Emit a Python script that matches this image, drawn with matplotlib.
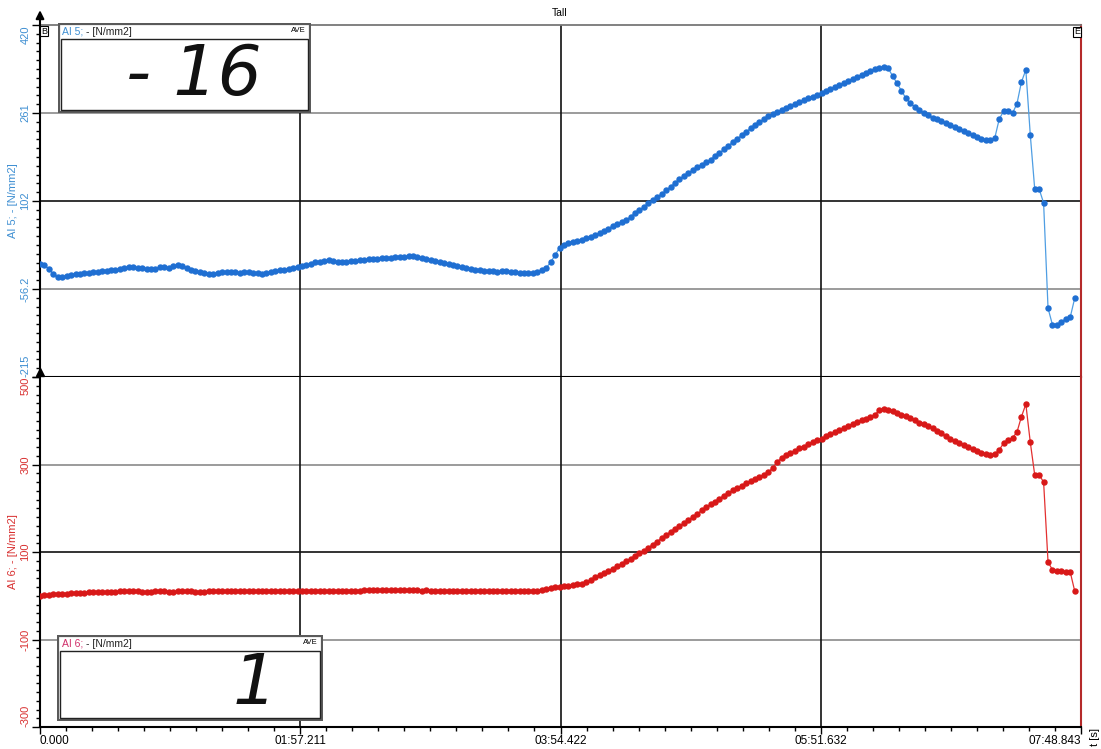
import matplotlib.pyplot as plt
import numpy as np
from matplotlib.patches import Rectangle
from matplotlib.ticker import AutoMinorLocator

plt.rcParams['font.family'] = ['Liberation Sans', 'DejaVu Sans']

W, H = 1101, 749

# samples every 2 s
time_s = np.arange(234) * 2.0
t_end = 468.843

ai5 = [
    -11, -13, -20, -29, -35, -35, -33, -31, -29, -29,
    -27, -27, -26, -26, -24, -24, -22, -22, -20, -18,
    -17, -17, -18, -18, -20, -20, -20, -17, -17, -18,
    -15, -13, -15, -18, -22, -24, -26, -27, -29, -29,
    -27, -26, -26, -26, -26, -27, -26, -26, -27, -27,
    -29, -27, -26, -24, -22, -22, -20, -18, -17, -15,
    -13, -11, -8, -8, -6, -4, -6, -8, -8, -8,
    -6, -6, -4, -4, -2, -2, -2, 0, 0, 0,
    2, 2, 2, 3, 3, 2, 0, -2, -4, -6,
    -8, -9, -11, -13, -15, -17, -18, -20, -22, -22,
    -24, -24, -24, -26, -24, -24, -26, -26, -27, -27,
    -27, -27, -26, -22, -18, -8, 5, 18, 23, 27,
    29, 30, 32, 36, 38, 41, 45, 48, 52, 58,
    61, 65, 68, 74, 81, 86, 92, 99, 104, 110,
    115, 122, 128, 135, 142, 148, 153, 158, 164, 167,
    173, 177, 184, 189, 196, 202, 209, 214, 222, 227,
    234, 240, 245, 250, 256, 260, 263, 267, 270, 274,
    278, 281, 285, 288, 290, 294, 297, 301, 305, 308,
    312, 315, 319, 323, 326, 330, 333, 337, 341, 342,
    344, 342, 328, 315, 301, 288, 279, 272, 267, 261,
    258, 252, 250, 247, 243, 240, 236, 232, 229, 225,
    222, 218, 215, 212, 213, 216, 250, 265, 265, 261,
    278, 317, 339, 222, 124, 124, 99, -91, -121, -121,
    -116, -110, -107, -73,
]

ai6 = [
    0, 1, 2, 3, 4, 5, 5, 6, 6, 7,
    7, 8, 8, 8, 9, 9, 9, 9, 10, 10,
    10, 10, 10, 9, 9, 9, 10, 10, 10, 9,
    9, 10, 10, 10, 10, 9, 9, 9, 10, 10,
    10, 10, 10, 10, 11, 10, 10, 10, 10, 11,
    10, 10, 11, 11, 11, 11, 11, 11, 11, 11,
    11, 11, 12, 12, 11, 12, 12, 12, 12, 12,
    12, 12, 12, 13, 13, 13, 13, 13, 13, 13,
    13, 13, 13, 13, 13, 13, 12, 13, 12, 12,
    12, 12, 12, 11, 11, 11, 11, 11, 11, 11,
    11, 11, 11, 11, 11, 11, 11, 11, 11, 11,
    11, 12, 12, 13, 15, 18, 20, 21, 22, 22,
    24, 26, 28, 31, 36, 42, 47, 52, 57, 62,
    68, 73, 79, 85, 91, 97, 103, 110, 117, 124,
    132, 139, 146, 153, 159, 166, 173, 180, 187, 195,
    202, 209, 215, 222, 229, 235, 241, 246, 252, 257,
    262, 267, 271, 277, 283, 292, 306, 315, 322, 326,
    332, 337, 341, 346, 351, 356, 359, 365, 370, 374,
    379, 383, 388, 393, 397, 401, 404, 409, 413, 425,
    427, 425, 422, 418, 414, 410, 406, 402, 396, 393,
    388, 383, 377, 371, 365, 358, 354, 349, 345, 340,
    335, 331, 326, 324, 322, 324, 333, 349, 356, 361,
    374, 409, 438, 351, 276, 276, 260, 77, 59, 57,
    57, 54, 54, 11,
]

ai5_ticks = [-215, -56.25, 102.5, 261.25, 420]
ai5_labels = ['-215', '-56.2', '102', '261', '420']
ai6_ticks = [-300, -100, 100, 300, 500]
ai6_labels = ['-300', '-100', '100', '300', '500']
time_ticks = [0.0, 117.211, 234.422, 351.632, 468.843]
time_labels = ['0.000', '01:57.211', '03:54.422', '05:51.632', '07:48.843']

BLUE_LINE = '#4f9ee3'
BLUE_DOT = '#1f6fd2'
BLUE_TEXT = '#3f8fd2'
RED_LINE = '#e33030'
RED_DOT = '#d81818'
RED_TEXT = '#d83030'
FRAME_RED = '#b52a2a'
GRID_GRAY = '#8a8a8a'


def px_rect(x0, y0, x1, y1):
    return [x0 / W, 1 - y1 / H, (x1 - x0) / W, (y1 - y0) / H]


def style_panel(ax, ticks, labels, color, ylabel):
    ax.set_xlim(0, t_end)
    ax.set_ylim(ticks[0], ticks[-1])
    ax.set_yticks(ticks, labels)
    ax.yaxis.set_minor_locator(AutoMinorLocator(10))
    ax.tick_params(axis='y', which='major', direction='out', length=6,
                   width=1, labelcolor=color, labelsize=8, pad=1)
    ax.tick_params(axis='y', which='minor', direction='out', length=3, width=1)
    tl = ax.get_yticklabels()
    for lab in tl:
        lab.set_rotation(90)
        lab.set_va('center')
    tl[0].set_va('bottom')
    tl[-1].set_va('top')
    ax.set_ylabel(ylabel, color=color, fontsize=8, labelpad=2)
    # gridlines: middle one dark, the others gray
    for i, v in enumerate(ticks[1:-1]):
        ax.axhline(v, color='#111111' if i == 1 else GRID_GRAY,
                   lw=1.2, zorder=1)
    for t in time_ticks[1:-1]:
        ax.axvline(t, color='#111111', lw=1.2, zorder=1)
    ax.spines['left'].set_linewidth(1.5)
    ax.spines['right'].set_color(FRAME_RED)
    ax.spines['right'].set_linewidth(1.5)


def draw_display(rect, title, color, value, num_x):
    # num_x: right edge of the big readout, in box-local pixels
    x0, y0, x1, y1 = rect
    w, h = x1 - x0, y1 - y0
    dax = fig.add_axes(px_rect(x0, y0, x1, y1))
    dax.set_xlim(0, w)
    dax.set_ylim(h, 0)
    dax.axis('off')
    dax.add_patch(Rectangle((1, 1), w - 2, h - 2, fill=True, fc='white',
                            ec='#5a5a5a', lw=1.6))
    dax.add_patch(Rectangle((3, 15.5), w - 6, h - 18.5, fill=False,
                            ec='#222222', lw=1.0))
    dax.text(4.5, 9, title[0], color=color, fontsize=7.5, va='center')
    dax.text(4.5 + 24, 9, title[1], color='#222222', fontsize=7.5, va='center')
    dax.text(w - 5, 7.5, 'AVE', fontsize=5.5, ha='right', va='center')
    dax.text(num_x, h / 2 + 7, value, fontsize=50, ha='right', va='center',
             family='DejaVu Sans', style='oblique', color='#111111')


fig = plt.figure(figsize=(W / 100, H / 100), dpi=100)
ax1 = fig.add_axes(px_rect(40, 25, 1081, 377))
ax2 = fig.add_axes(px_rect(40, 377, 1081, 727))

ax1.plot(time_s, ai5, color=BLUE_LINE, lw=0.9, marker='o', ms=3.6,
         mfc=BLUE_DOT, mec=BLUE_DOT, zorder=3)
ax2.plot(time_s, ai6, color=RED_LINE, lw=0.9, marker='o', ms=3.6,
         mfc=RED_DOT, mec=RED_DOT, zorder=3)

style_panel(ax1, ai5_ticks, ai5_labels, BLUE_TEXT, 'AI 5; - [N/mm2]')
style_panel(ax2, ai6_ticks, ai6_labels, RED_TEXT, 'AI 6; - [N/mm2]')

ax1.tick_params(axis='x', which='both', bottom=False, labelbottom=False)
ax1.spines['top'].set_color('#777777')
ax1.spines['top'].set_linewidth(1.3)
ax1.spines['bottom'].set_linewidth(1.5)
ax2.spines['top'].set_visible(False)
ax2.spines['bottom'].set_linewidth(1.5)

ax2.set_xticks(time_ticks, time_labels)
ax2.xaxis.set_minor_locator(AutoMinorLocator(10))
ax2.tick_params(axis='x', which='major', direction='out', length=5, width=1,
                labelsize=8.5, pad=0.5)
ax2.tick_params(axis='x', which='minor', direction='out', length=3, width=1)
xl = ax2.get_xticklabels()
xl[0].set_ha('left')
xl[-1].set_ha('right')

# axis arrows on the left edge
ax1.annotate('', xy=(0, 1.05), xytext=(0, 0.99), xycoords='axes fraction',
             arrowprops=dict(arrowstyle='-|>', color='black', lw=1.5,
                             mutation_scale=12), annotation_clip=False)
ax2.plot([0], [1.014], marker='^', ms=6, color='black',
         transform=ax2.transAxes, clip_on=False, zorder=5)

# small frame icons
fig.text(44 / W, 1 - 31 / H, 'B', fontsize=6.5, ha='center', va='center',
         bbox=dict(boxstyle='square,pad=0.1', fc='white', ec='black', lw=0.8))
fig.text(1077 / W, 1 - 32 / H, 'E', fontsize=6.5, ha='center', va='center',
         bbox=dict(boxstyle='square,pad=0.1', fc='white', ec='black', lw=0.8))

fig.text(560 / W, 1 - 13 / H, 'Tall', fontsize=7.5, ha='center', va='center')
fig.text(1095 / W, 1 - 737 / H, 't [s]', fontsize=8, rotation=90,
         ha='center', va='center')

draw_display((58, 23, 311, 113), ('AI 5;', '- [N/mm2]'), BLUE_TEXT,
             '- 16', 204)
draw_display((57, 635, 323, 721), ('AI 6;', '- [N/mm2]'), '#d0306a',
             '1', 220)

fig.savefig('out.png', dpi=100)
